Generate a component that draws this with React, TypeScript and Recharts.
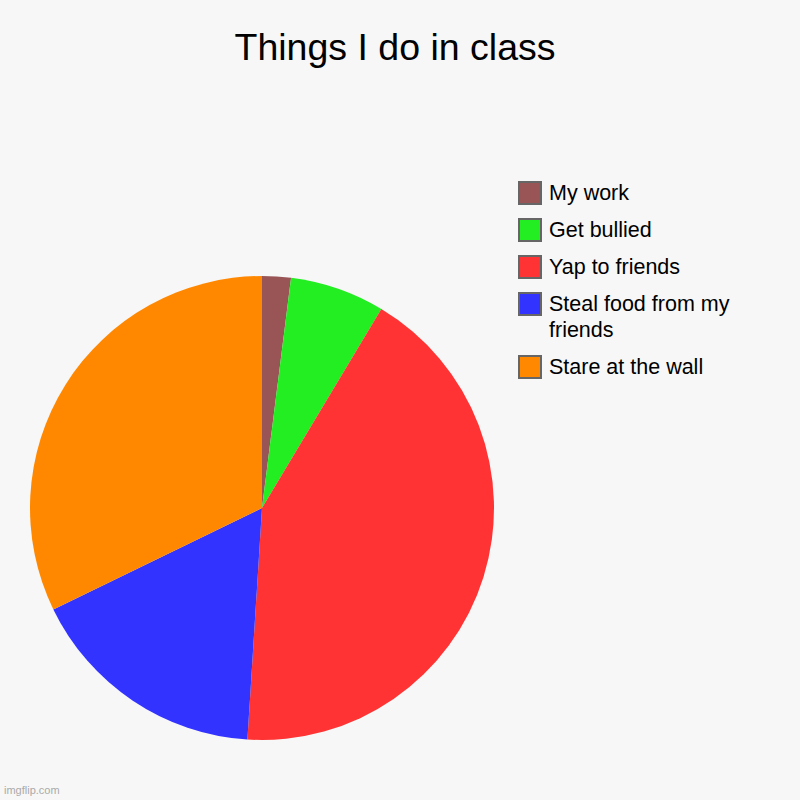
import React from 'react';
import { PieChart, Pie, Cell, Legend } from 'recharts';

const activities = ['My work', 'Get bullied', 'Yap to friends', 'Steal food from my friends', 'Stare at the wall'];
const shares = [2, 6.6, 42.4, 16.8, 32.2];
const colors = ['#995555', '#22ee22', '#ff3333', '#3333ff', '#ff8800'];

const data = activities.map((name, i) => ({ name, value: shares[i] }));

const renderLegend = () => (
  <div style={{ fontFamily: 'Arial, "Liberation Sans", sans-serif', fontSize: 21.5, color: '#000' }}>
    {activities.map((name, i) => (
      <div key={name} style={{ display: 'flex', alignItems: 'flex-start', marginBottom: 12 }}>
        <div
          style={{
            width: 20,
            height: 20,
            background: colors[i],
            border: '2px solid #666',
            flexShrink: 0,
            marginRight: 7,
          }}
        />
        <div style={{ width: 210, lineHeight: '26px', marginTop: -1 }}>{name}</div>
      </div>
    ))}
  </div>
);

export default function App() {
  return (
    <div style={{ position: 'absolute', left: 0, top: 0, width: 800, height: 800, background: '#f7f7f7' }}>
      <div
        style={{
          position: 'absolute',
          top: 26,
          left: 0,
          width: 790,
          textAlign: 'center',
          fontFamily: 'Arial, "Liberation Sans", sans-serif',
          fontSize: 37.5,
          color: '#000',
        }}
      >
        Things I do in class
      </div>
      <PieChart width={800} height={800} margin={{ top: 0, right: 0, bottom: 0, left: 0 }}>
        <Pie
          data={data}
          dataKey="value"
          nameKey="name"
          cx={262}
          cy={508}
          outerRadius={232}
          startAngle={90}
          endAngle={-270}
          stroke="none"
          isAnimationActive={false}
        >
          {data.map((d, i) => (
            <Cell key={d.name} fill={colors[i]} />
          ))}
        </Pie>
        <Legend
          content={renderLegend}
          wrapperStyle={{ position: 'absolute', left: 518, top: 181, width: 260 }}
        />
      </PieChart>
      <div
        style={{
          position: 'absolute',
          left: 4,
          bottom: 4,
          fontFamily: 'Arial, "Liberation Sans", sans-serif',
          fontSize: 11,
          color: '#aaa',
        }}
      >
        imgflip.com
      </div>
    </div>
  );
}
